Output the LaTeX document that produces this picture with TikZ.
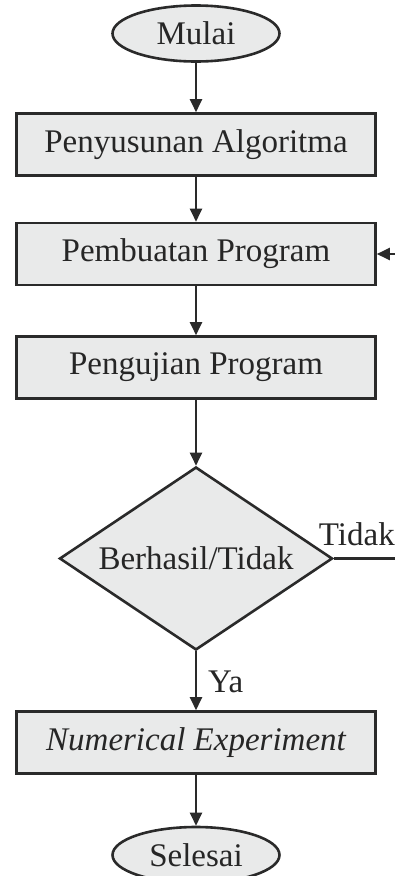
\documentclass[tikz,border=0pt]{standalone}
\usepackage{fontspec}
\setmainfont{Liberation Serif}
\usetikzlibrary{shapes.geometric,arrows.meta}
\definecolor{boxfill}{HTML}{E9EAEA}
\definecolor{ink}{HTML}{2A2A2A}
\definecolor{txt}{HTML}{262626}
\tikzset{
  flow/.style={draw=ink, line width=2.6pt, fill=boxfill, text=txt,
    font=\fontsize{33}{38}\selectfont, inner sep=0pt},
  procbox/.style={flow, rectangle, minimum width=359pt, minimum height=62pt},
  terminal/.style={flow, ellipse, minimum width=167pt, minimum height=56pt},
  decision/.style={flow, diamond, aspect=1.5, inner sep=0pt,
    minimum width=273pt, minimum height=183pt},
  link/.style={draw=ink, line width=2.4pt,
    -{Triangle[length=13pt,width=12pt]}},
  plain/.style={draw=ink, line width=2.4pt},
  lbl/.style={text=txt, font=\fontsize{33}{38}\selectfont, inner sep=0pt}
}
\begin{document}
\begin{tikzpicture}[x=1pt,y=-1pt]
  \useasboundingbox (0,0) rectangle (395,876);
  \clip (0,0) rectangle (395,876);

  % flowchart nodes
  \node[terminal] (mulai) at (196,33.5) {Mulai};
  \node[procbox] (algo) at (196,144.5) {Penyusunan Algoritma};
  \node[procbox] (buat) at (196,254) {Pembuatan Program};
  \node[procbox] (uji) at (196,367.5) {Pengujian Program};
  \node[decision] (cek) at (196,558.5) {Berhasil/Tidak};
  \node[procbox] (eksp) at (196,742.5) {\itshape Numerical Experiment};
  \node[terminal] (selesai) at (196,855) {Selesai};

  % main flow
  \draw[link] (mulai) -- (algo);
  \draw[link] (algo) -- (buat);
  \draw[link] (buat) -- (uji);
  \draw[link] (uji) -- (cek);
  \draw[link] (cek) -- (eksp);
  \draw[link] (eksp) -- (selesai);

  % loop back on failure
  \coordinate (tidakEnd) at (410,558.5);
  \coordinate (balik) at (410,254);
  \draw[plain] (cek.east) -- (tidakEnd);
  \draw[link] (balik) -- (buat.east);

  % branch labels
  \node[lbl, anchor=base west] (ya) at (208,692) {Ya};
  \node[lbl, anchor=base east] (tidak) at (395,545) {Tidak};
\end{tikzpicture}
\end{document}
